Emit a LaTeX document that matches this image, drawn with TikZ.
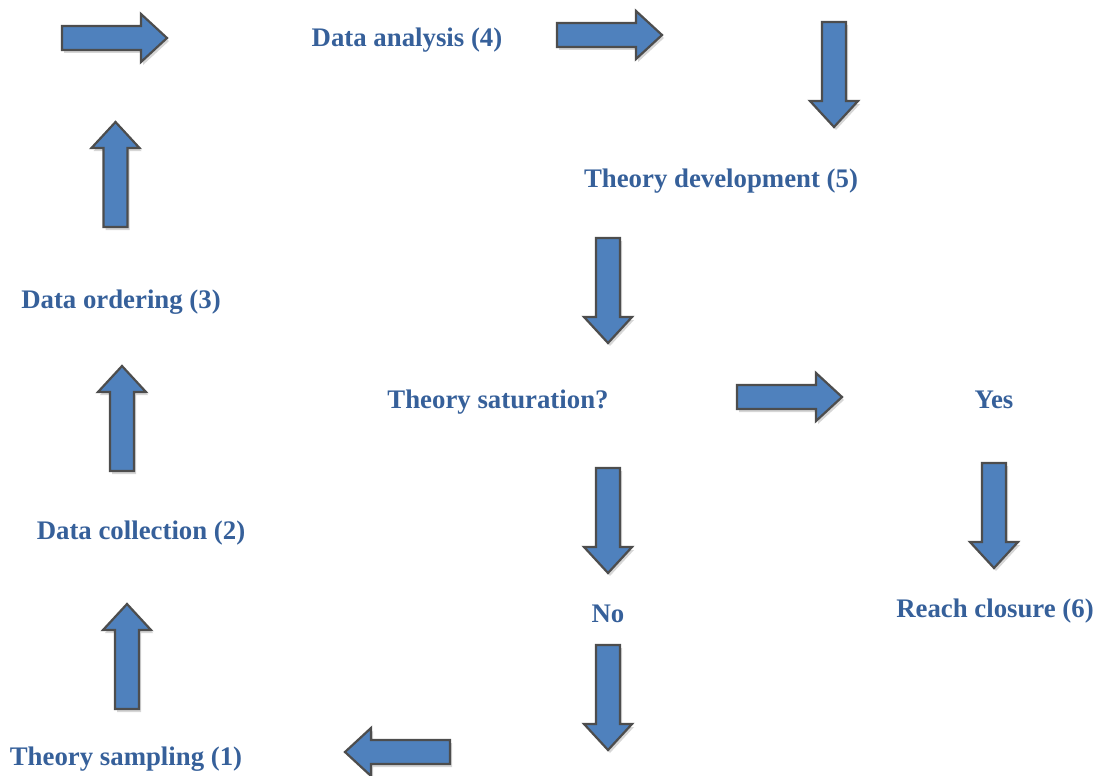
\documentclass[tikz,border=0pt]{standalone}
\usepackage{fontspec}
\setmainfont{Liberation Serif}
\definecolor{txtblue}{HTML}{36609A}
\definecolor{arrfill}{HTML}{4F81BD}
\definecolor{arrline}{HTML}{4D4D4D}
\begin{document}
\begin{tikzpicture}[x=1pt,y=-1pt,
  lbl/.style={font=\fontsize{26.8}{30}\selectfont\bfseries, text=txtblue, inner sep=0pt, yshift=-2pt},
  arrowbody/.style={fill=arrfill, draw=arrline, line width=2.2pt, line join=miter},
  arrowshadow/.style={fill=black, opacity=0.16},
  blockarrow/.pic={
    \fill[arrowshadow, shift={(2,3)}, rotate=#1] (0,-12) -- (79,-12) -- (79,-24) -- (105,0) -- (79,24) -- (79,12) -- (0,12) -- cycle;
    \draw[arrowbody, rotate=#1] (0,-12) -- (79,-12) -- (79,-24) -- (105,0) -- (79,24) -- (79,12) -- (0,12) -- cycle;
  }]
\useasboundingbox (0,0) rectangle (1095,776);
% labels
\node[lbl] (n4) at (407,38) {Data analysis (4)};
\node[lbl] (n5) at (721,179) {Theory development (5)};
\node[lbl] (n3) at (121,300) {Data ordering (3)};
\node[lbl] (sat) at (498,400) {Theory saturation?};
\node[lbl] (yes) at (994,398) {Yes};
\node[lbl] (n2) at (141,531) {Data collection (2)};
\node[lbl] (no) at (608,612) {No};
\node[lbl] (n6) at (995,609) {Reach closure (6)};
\node[lbl] (n1) at (126,757) {Theory sampling (1)};
% block arrows
\pic at (62,38) {blockarrow=0};
\pic at (557,35) {blockarrow=0};
\pic at (834,22) {blockarrow=-90};
\pic at (608,238) {blockarrow=-90};
\pic at (115.5,227) {blockarrow=90};
\pic at (122,471) {blockarrow=90};
\pic at (127,709) {blockarrow=90};
\pic at (737,397) {blockarrow=0};
\pic at (608,468) {blockarrow=-90};
\pic at (994,463) {blockarrow=-90};
\pic at (608,645) {blockarrow=-90};
\pic at (450,752) {blockarrow=180};
\end{tikzpicture}
\end{document}
